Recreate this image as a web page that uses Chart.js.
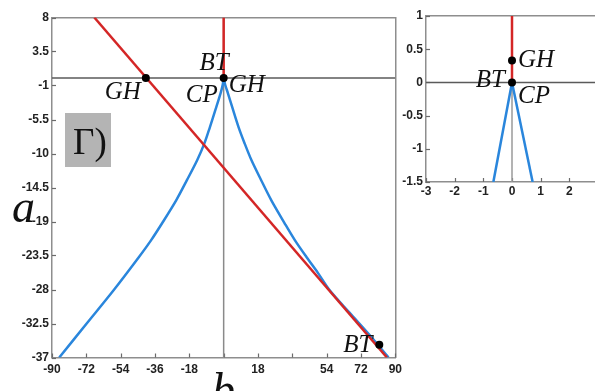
<!DOCTYPE html>
<html>
<head>
<meta charset="utf-8">
<script src="https://cdn.jsdelivr.net/npm/chart.js@4.4.0/dist/chart.umd.min.js"></script>
<style>
  html, body { margin: 0; padding: 0; background: #fff; overflow: hidden; width: 595px; height: 391px; }
  #wrap { position: relative; width: 595px; height: 391px; overflow: hidden; }
  #main { position: absolute; left: 0; top: 0; }
  #inset { position: absolute; left: 400px; top: 0; }
</style>
</head>
<body>
<div id="wrap">
  <canvas id="main" width="407" height="391"></canvas>
  <canvas id="inset" width="215" height="200"></canvas>
</div>
<script>
// ---------- main diagram (b, a) ----------
const bTicks = [-90, -72, -54, -36, -18, 0, 18, 36, 54, 72, 90];
const bTickLabels = ['-90', '-72', '-54', '-36', '-18', '', '18', '', '54', '72', '90'];
const aTicks = [-37, -32.5, -28, -23.5, -19, -14.5, -10, -5.5, -1, 3.5, 8];
const aTickLabels = ['-37', '-32.5', '-28', '-23.5', '-19', '-14.5', '-10', '-5.5', '-1', '3.5', '8'];

// fold line (red, oblique) and the vertical red branch above the origin
const foldB = [-67.8, 85.6];
const foldA = [8, -37];
const vertB = [0, 0];
const vertA = [0, 8];

// cusp branches (blue)
const leftB  = [0, -0.5, -1.6, -4.3, -7.2, -10.0, -13.9, -19.2, -24.9, -32.2, -38.1, -44.4, -57.7, -71.5, -86.2];
const leftA  = [0, -0.9, -2.0, -4.2, -6.5, -8.6, -10.9, -13.5, -16.2, -19.2, -21.5, -23.7, -28.1, -32.4, -37];
const rightB = [0, 0.8, 2.2, 4.9, 7.8, 10.9, 14.6, 19.6, 25.0, 31.9, 37.4, 43.4, 49.4, 55.6, 66.1, 76.4, 86.4];
const rightA = [0, -0.9, -2.0, -4.2, -6.5, -8.6, -10.9, -13.5, -16.2, -19.2, -21.5, -23.7, -25.8, -28.1, -31.1, -34.0, -37];

// special points
const dotB = [0, -40.8, 81.6];
const dotA = [0, 0, -35.3];
const dotText = ['', 'GH', 'BT'];

// ---------- inset (zoom near the origin) ----------
const insBTicks = [-3, -2, -1, 0, 1, 2, 3];
const insBTickLabels = ['-3', '-2', '-1', '0', '1', '2', '3'];
const insATicks = [-1.5, -1, -0.5, 0, 0.5, 1];
const insATickLabels = ['-1.5', '-1', '-0.5', '0', '0.5', '1'];
const insVertB = [0, 0];
const insVertA = [0, 1];
const insLeftB = [0, -0.65];
const insLeftA = [0, -1.5];
const insRightB = [0, 0.72];
const insRightA = [0, -1.5];
const insDotB = [0, 0];
const insDotA = [0, 0.33];

const RED = '#d42626';
const BLUE = '#2a86dc';
const AXIS = '#8e8e8e';
const tickFont = { family: '"Liberation Sans Narrow", "Liberation Sans", Arial, sans-serif', size: 12, weight: 'bold' };
const labelFont = 'italic 25px "Liberation Serif", "Times New Roman", serif';

const pts = (xs, ys) => xs.map((x, i) => ({ x: x, y: ys[i] }));

function lineSet(data, color, width, tension) {
  return { data, showLine: true, borderColor: color, borderWidth: width, pointRadius: 0, tension: tension || 0, fill: false };
}

// short tick marks pointing into the plot area
const innerTicks = {
  id: 'innerTicks',
  beforeDatasetsDraw(chart, args, opts) {
    const { ctx, chartArea: ca } = chart;
    const xs = chart.scales.x, ys = chart.scales.y;
    ctx.save();
    ctx.strokeStyle = opts.color || '#666';
    ctx.lineWidth = 1.2;
    const len = opts.len || 4;
    xs.ticks.forEach(t => {
      const px = Math.round(xs.getPixelForValue(t.value)) + 0.5;
      ctx.beginPath(); ctx.moveTo(px, ca.bottom); ctx.lineTo(px, ca.bottom - len); ctx.stroke();
    });
    ys.ticks.forEach(t => {
      const py = Math.round(ys.getPixelForValue(t.value)) + 0.5;
      ctx.beginPath(); ctx.moveTo(ca.left, py); ctx.lineTo(ca.left + len, py); ctx.stroke();
    });
    ctx.restore();
  }
};

// point names (BT, GH, CP) placed next to the points they name
const pointNames = {
  id: 'pointNames',
  afterDraw(chart, args, opts) {
    const { ctx } = chart;
    const xs = chart.scales.x, ys = chart.scales.y;
    ctx.save();
    ctx.fillStyle = '#111';
    ctx.font = labelFont;
    ctx.textBaseline = 'alphabetic';
    (opts.items || []).forEach(it => {
      ctx.textAlign = it.align;
      ctx.fillText(it.text, xs.getPixelForValue(it.b) + it.dx, ys.getPixelForValue(it.a) + it.dy);
    });
    (opts.extra || []).forEach(fn => fn(chart, ctx));
    ctx.restore();
  }
};

function boxAxis(pos) {
  const horiz = pos === 'top';
  return {
    position: pos,
    display: true,
    grid: { display: false, drawTicks: false },
    ticks: { display: false },
    border: { display: true, color: AXIS, width: 1.5 },
    afterFit: s => { if (horiz) s.height = 0; else s.width = 0; }
  };
}

function makeChart(canvasId, cfg) {
  return new Chart(document.getElementById(canvasId), {
    type: 'scatter',
    data: { datasets: cfg.datasets },
    options: {
      responsive: false,
      animation: false,
      devicePixelRatio: 1,
      events: [],
      layout: { padding: cfg.padding },
      plugins: {
        legend: { display: false },
        tooltip: { enabled: false },
        innerTicks: { color: '#6a6a6a', len: 4 },
        pointNames: { items: cfg.names, extra: cfg.extra }
      },
      scales: {
        x: {
          type: 'linear', position: 'bottom', min: cfg.xMin, max: cfg.xMax,
          afterBuildTicks: s => { s.ticks = cfg.xTicks.map(v => ({ value: v })); },
          afterFit: s => { s.height = cfg.xAxisH; },
          grid: { display: false, drawTicks: false },
          border: { display: true, color: AXIS, width: 1.5 },
          ticks: { autoSkip: false, maxRotation: 0, padding: cfg.xPad, color: '#222', font: tickFont,
                   callback: (v, i) => cfg.xLabels[i] }
        },
        y: {
          type: 'linear', position: 'left', min: cfg.yMin, max: cfg.yMax,
          afterBuildTicks: s => { s.ticks = cfg.yTicks.map(v => ({ value: v })); },
          afterFit: s => { s.width = cfg.yAxisW; },
          grid: { display: false, drawTicks: false },
          border: { display: true, color: AXIS, width: 1.5 },
          ticks: { autoSkip: false, padding: 3, color: '#222', font: tickFont,
                   callback: (v, i) => cfg.yLabels[i] }
        },
        xTop: Object.assign(boxAxis('top'), { type: 'linear', min: cfg.xMin, max: cfg.xMax }),
        yRight: Object.assign(boxAxis('right'), { type: 'linear', min: cfg.yMin, max: cfg.yMax })
      }
    },
    plugins: [innerTicks, pointNames]
  });
}

// main chart
makeChart('main', {
  xMin: -90, xMax: 90, yMin: -37, yMax: 8,
  xTicks: bTicks, xLabels: bTickLabels, yTicks: aTicks, yLabels: aTickLabels,
  xAxisH: 33.5, yAxisW: 52, xPad: 5,
  padding: { left: 0, right: 5, top: 17.5, bottom: 0 },
  datasets: [
    { data: pts(dotB, dotA), showLine: false, pointRadius: 4, pointBackgroundColor: '#000', pointBorderWidth: 0 },
    lineSet(pts(vertB, vertA), RED, 2.5),
    lineSet(pts(foldB, foldA), RED, 2.5),
    lineSet(pts(leftB, leftA), BLUE, 2.5, 0.3),
    lineSet(pts(rightB, rightA), BLUE, 2.5, 0.3),
    lineSet(pts([-90, 90], [0, 0]), '#5a5a5a', 1.5),
    lineSet(pts([0, 0], [-37, 8]), '#8a8a8a', 1.5)
  ],
  names: [
    { text: 'BT', b: 0, a: 0, dx: 5, dy: -8, align: 'right' },
    { text: 'CP', b: 0, a: 0, dx: -6, dy: 24, align: 'right' },
    { text: 'GH', b: 0, a: 0, dx: 5, dy: 14, align: 'left' },
    { text: dotText[1], b: dotB[1], a: dotA[1], dx: -5, dy: 21, align: 'right' },
    { text: dotText[2], b: dotB[2], a: dotA[2], dx: -7, dy: 7, align: 'right' }
  ],
  extra: [
    (chart, ctx) => {
      // panel tag
      ctx.fillStyle = '#b4b4b4';
      ctx.fillRect(65, 113, 46, 54);
      ctx.fillStyle = '#111';
      ctx.textAlign = 'left';
      ctx.font = '37px "Liberation Serif", "Times New Roman", serif';
      ctx.fillText('\u0393)', 73, 154);
      // axis names
      ctx.font = 'italic 46px "Liberation Serif", "Times New Roman", serif';
      ctx.fillText('a', 12, 222);
      ctx.fillText('b', 212, 405);
    }
  ]
});

// inset chart
makeChart('inset', {
  xMin: -3, xMax: 3, yMin: -1.5, yMax: 1,
  xTicks: insBTicks, xLabels: insBTickLabels, yTicks: insATicks, yLabels: insATickLabels,
  xAxisH: 18, yAxisW: 26, xPad: 2,
  padding: { left: 0, right: 17, top: 16, bottom: 0 },
  datasets: [
    { data: pts(insDotB, insDotA), showLine: false, pointRadius: 4, pointBackgroundColor: '#000', pointBorderWidth: 0 },
    lineSet(pts(insVertB, insVertA), RED, 2.5),
    lineSet(pts(insLeftB, insLeftA), BLUE, 2.5),
    lineSet(pts(insRightB, insRightA), BLUE, 2.5),
    lineSet(pts([-3, 3], [0, 0]), '#5a5a5a', 1.5),
    lineSet(pts([0, 0], [-1.5, 0]), '#9a9a9a', 1.5)
  ],
  names: [
    { text: 'GH', b: insDotB[1], a: insDotA[1], dx: 6, dy: 7, align: 'left' },
    { text: 'BT', b: 0, a: 0, dx: -7, dy: 5, align: 'right' },
    { text: 'CP', b: 0, a: 0, dx: 6, dy: 21, align: 'left' }
  ],
  extra: []
});
</script>
</body>
</html>
